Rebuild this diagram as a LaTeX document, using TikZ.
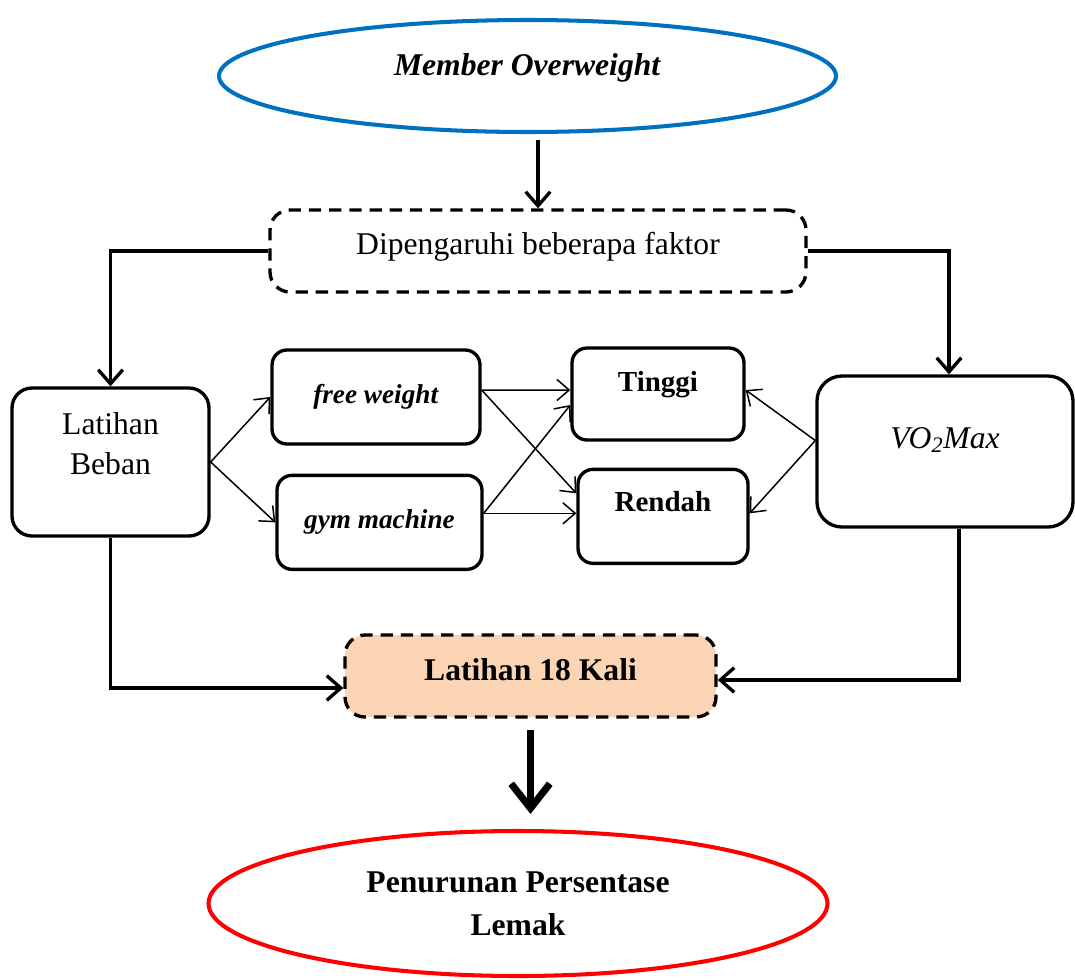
\documentclass[tikz,border=0pt]{standalone}
\usepackage{fontspec}
\setmainfont{Liberation Serif}
\usepackage{tikz}
\usetikzlibrary{arrows,arrows.meta,shapes,positioning}

\definecolor{ovalblue}{RGB}{0,112,192}
\definecolor{peach}{RGB}{251,212,180}

\begin{document}
\begin{tikzpicture}[
        every node/.style={align=center, font=\fontsize{18}{21.6}\selectfont},
        box/.style={draw, rounded corners=0.4cm, line width=1.9pt, inner sep=0pt},
        dashbox/.style={box, dash pattern=on 7pt off 4.5pt},
        oval/.style={draw, ellipse, line width=2.3pt, inner sep=0pt},
        arr/.style={-{Straight Barb[length=7pt,width=12pt]}, line width=0.85pt},
        link/.style={-{Straight Barb[length=8pt,width=14pt]}, line width=1.9pt},
        bigarrow/.style={-{Straight Barb[length=14pt,width=22pt]}, line width=4pt}
    ]

    \useasboundingbox (0,0) rectangle (21.5,-19.6);

    % Nodes
    \node (member)[oval, draw=ovalblue, minimum width=12.34cm, minimum height=2.24cm,
        text depth=0.45cm] at (10.55,-1.52) {\textbf{\textit{Member Overweight}}};

    \node (faktor)[dashbox, minimum width=10.72cm, minimum height=1.64cm,
        text depth=0.3cm] at (10.76,-5.02) {Dipengaruhi beberapa faktor};

    \node (beban)[box, minimum width=3.94cm, minimum height=2.96cm,
        font=\fontsize{18}{22.8}\selectfont, text depth=0.75cm] at (2.21,-9.24) {Latihan\\Beban};

    \node (free)[box, rounded corners=0.3cm, minimum width=4.16cm, minimum height=1.88cm,
        font=\fontsize{15.5}{18}\selectfont] at (7.52,-7.94) {\textbf{\textit{free weight}}};

    \node (gym)[box, rounded corners=0.3cm, minimum width=4.1cm, minimum height=1.88cm,
        font=\fontsize{15.5}{18}\selectfont, below=0.56cm of free, xshift=0.07cm] {\textbf{\textit{gym machine}}};

    \node (tinggi)[box, rounded corners=0.3cm, minimum width=3.44cm, minimum height=1.84cm,
        font=\fontsize{16.5}{20}\selectfont, text depth=0.5cm] at (13.16,-7.88) {\textbf{Tinggi}};

    \node (rendah)[box, rounded corners=0.3cm, minimum width=3.4cm, minimum height=1.88cm,
        font=\fontsize{16.5}{20}\selectfont, text depth=0.58cm, below=0.52cm of tinggi, xshift=0.1cm] {\textbf{Rendah}};

    \node (vo2)[box, rounded corners=0.5cm, minimum width=5.12cm, minimum height=3.02cm,
        text depth=0.55cm] at (18.9,-9.03) {\textit{VO\textsubscript{2}Max}};

    \node (latihan)[dashbox, fill=peach, minimum width=7.42cm, minimum height=1.64cm,
        text depth=0.25cm] at (10.61,-13.52) {\textbf{Latihan 18 Kali}};

    \node (hasil)[oval, draw=red, minimum width=12.38cm, minimum height=2.9cm,
        font=\fontsize{18}{24.5}\selectfont] at (10.36,-18.07)
        {\textbf{Penurunan Persentase}\\ \textbf{Lemak}};

    % Edges
    \draw[link, shorten <=0.12cm] (member.south -| faktor.north) -- (faktor.north);
    \draw[link] (faktor.west) -| (beban.north);
    \draw[link] (faktor.east) -| ([xshift=0.08cm]vo2.north);

    \draw[arr] (beban.east) -- (free.west);
    \draw[arr] (beban.east) -- (gym.west);
    \draw[arr] ([yshift=0.14cm]free.east) -- ([yshift=0.08cm]tinggi.west);
    \draw[arr] ([yshift=0.14cm]free.east) -- ([yshift=0.46cm]rendah.west);
    \draw[arr] ([yshift=0.18cm]gym.east) -- ([yshift=-0.22cm]tinggi.west);
    \draw[arr] ([yshift=0.18cm]gym.east) -- ([yshift=0.06cm]rendah.west);
    \draw[arr] ([yshift=0.22cm]vo2.west) -- ([yshift=0.08cm]tinggi.east);
    \draw[arr] ([yshift=0.22cm]vo2.west) -- ([yshift=0.06cm]rendah.east);

    \draw[link] (beban.south) |- ([yshift=-0.24cm]latihan.west);
    \draw[link] ([xshift=0.28cm]vo2.south) |- ([yshift=-0.08cm]latihan.east);

    \draw[bigarrow, shorten <=0.22cm, shorten >=0.3cm] (latihan.south) -- (latihan.south |- hasil.north);

\end{tikzpicture}
\end{document}
